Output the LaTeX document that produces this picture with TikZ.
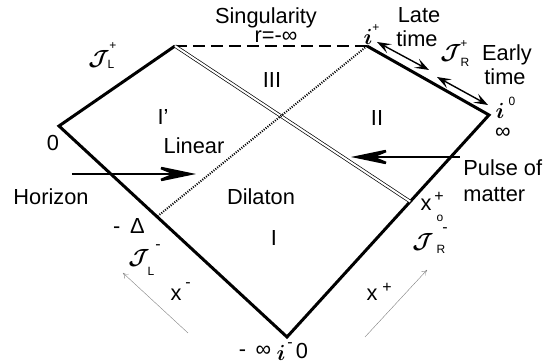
\documentclass[tikz,border=0pt]{standalone}
\usepackage{fontspec}
\setmainfont{Liberation Sans}
\usepackage{amsmath}
\usepackage{bm}
\usetikzlibrary{arrows.meta,calc}
\newcommand{\scrJ}{$\bm{\mathcal{J}}$}
\newcommand{\bi}{$\bm{i}$}
\begin{document}
\begin{tikzpicture}[x=0.5pt,y=-0.5pt,
  lbl/.style={font=\fontsize{10.9}{12.5}\selectfont, inner sep=0pt},
  sm/.style={font=\fontsize{6}{7}\selectfont, inner sep=0pt},
  smp/.style={font=\fontsize{8}{9}\selectfont, inner sep=0pt},
  jlbl/.style={font=\fontsize{10.5}{11}\selectfont, inner sep=0pt},
  edgeline/.style={line width=1.5pt, line join=miter},
  bigarrow/.style={line width=1.3pt, -{Stealth[length=24pt,width=10pt,inset=12pt]}},
  timearrow/.style={line width=0.7pt, {Stealth[length=7pt,width=5pt,inset=3pt]}-{Stealth[length=7pt,width=5pt,inset=3pt]}},
  faint/.style={line width=0.2pt, gray, -{To[length=2.5pt,width=3pt]}}
]
\useasboundingbox (0,0) rectangle (554,362);
% corners
\coordinate (L) at (59,126);
\coordinate (TL) at (175,46);
\coordinate (TR) at (367,46);
\coordinate (R) at (489,115);
\coordinate (B) at (287,337);
\coordinate (X0) at ($(B)!0.61!(R)$);
\coordinate (HD) at ($(L)!0.43!(B)$);
% singularity
\draw[line width=1pt, dash pattern=on 6pt off 3pt] (TL) -- (TR);
% main edges
\draw[edgeline] (TL) -- (L) -- (B) -- (R) -- (TR);
% pulse (double line)
\draw[line width=0.35pt, double, double distance=1pt] (TL) -- (X0);
% horizon (dotted)
\draw[line width=1pt, dash pattern=on 0.5pt off 0.7pt] (TR) -- (HD);
% big arrows
\coordinate (h1) at (72,174);
\coordinate (h2) at (196,174);
\draw[bigarrow] (h1) -- (h2);
\coordinate (p1) at (460,157);
\coordinate (p2) at (351,157);
\draw[bigarrow] (p1) -- (p2);
% time arrows
\coordinate (lt1) at (377,42);
\coordinate (lt2) at (429,70);
\draw[timearrow] (lt1) -- (lt2);
\coordinate (et1) at (437,77);
\coordinate (et2) at (488,105);
\draw[timearrow] (et1) -- (et2);
% faint arrows
\coordinate (xm1) at (188,333);
\coordinate (xm2) at (123,273);
\draw[faint] (xm1) -- (xm2);
\coordinate (xp1) at (365,337);
\coordinate (xp2) at (427,270);
\draw[faint] (xp1) -- (xp2);
% labels
\node[lbl] (sing) at (266,18) {Singularity};
\node[lbl] (rinf) at (276,37) {r=-∞};
\node[lbl] (III) at (272,80) {III};
\node[lbl] (Ip) at (163,117) {I’};
\node[lbl] (lin) at (194,146) {Linear};
\node[lbl] (II) at (377,118) {II};
\node[lbl] (dil) at (261,197) {Dilaton};
\node[lbl] (I) at (274,238) {I};
\node[lbl] (hor) at (51,197) {Horizon};
\node[lbl] (zero) at (53,143) {0};
\node[lbl] (delta) at (129,226) {-\, Δ};
\node[lbl,anchor=west] (pulse) at (463,168) {Pulse of};
\node[lbl,anchor=west] (matter) at (463,195) {matter};
\node[lbl] (late) at (419,15) {Late};
\node[lbl] (ltime) at (417,39) {time};
\node[lbl] (early) at (507,55) {Early};
\node[lbl] (etime) at (505,77) {time};
\node[lbl] (xm) at (176,295) {x};
\node[smp] (xmsup) at (188,285) {-};
\node[lbl] (xp) at (372,295) {x};
\node[smp] (xpsup) at (387,288) {+};
\node[lbl] (x0) at (426,205) {x};
\node[smp] (x0sup) at (439,197) {+};
\node[sm] (x0sub) at (440,218) {o};
% scri labels
\node[jlbl] (JLp) at (99,59) {\scrJ};
\node[sm] (JLpL) at (111,64) {L};
\node[sm] (JLpp) at (113,46) {+};
\node[jlbl] (JRp) at (451,53) {\scrJ};
\node[sm] (JRpR) at (465,62) {R};
\node[sm] (JRpp) at (464,44) {+};
\node[jlbl] (JLm) at (139,258) {\scrJ};
\node[sm] (JLmL) at (151,271) {L};
\node[smp] (JLmm) at (158,247) {-};
\node[jlbl] (JRm) at (423,242) {\scrJ};
\node[sm] (JRmR) at (441,249) {R};
\node[smp] (JRmm) at (445,230) {-};
% i labels
\node[jlbl] (ip) at (368,37) {\bi};
\node[sm] (ipp) at (376,28) {+};
\node[jlbl] (i0) at (500,111) {\bi};
\node[sm] (i0s) at (512,101) {0};
\node[lbl] (inf0) at (503,133) {∞};
\node[lbl] (minf) at (255,351) {-\, ∞};
\node[jlbl] (im) at (281,353) {\bi};
\node[smp] (ims) at (290,345) {-};
\node[lbl] (imz) at (302,351) {0};
\end{tikzpicture}
\end{document}
